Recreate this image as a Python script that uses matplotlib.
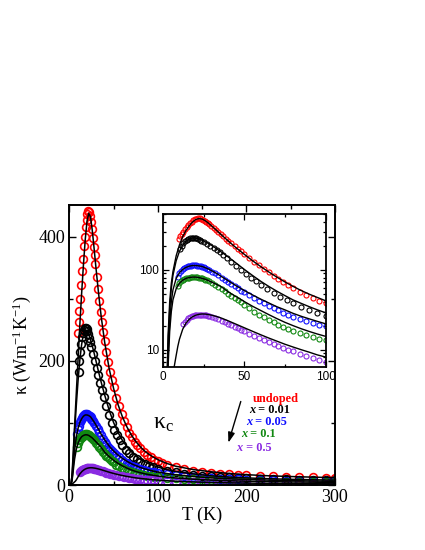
import matplotlib
matplotlib.use("Agg")
import matplotlib.pyplot as plt
from matplotlib.ticker import MultipleLocator, LogLocator, NullFormatter, FixedLocator

plt.rcParams['mathtext.fontset'] = 'stix'

# ---------------- data ----------------
labels = ["undoped", "x = 0.01", "x = 0.05", "x = 0.1", "x = 0.5"]
colors = ["#ff0000", "#000000", "#1010ff", "#118811", "#8a2be2"]

T_red = [9.5, 10.5, 11.5, 12.5, 13.5, 14.5, 15.5, 16.5, 17.5, 18.5, 19.5, 20.5, 21.5, 22.5, 23.5, 24.5,
         25.5, 26.5, 27.5, 28.5, 29.5, 31, 32.5, 34, 35.5, 37, 38.5, 40, 42, 44, 46, 48, 50, 53, 56, 59,
         62, 65, 68, 71, 74, 77, 80, 84, 88, 92, 96, 100, 105, 110, 120, 130, 140, 150, 160, 170, 180,
         190, 200, 215, 230, 245, 260, 275, 290, 300]
k_red = [245, 262, 280, 300, 322, 345, 365, 385, 400, 415, 427, 436, 441, 440, 434, 424,
         412, 398, 384, 370, 356, 336, 316, 297, 279, 262, 246, 232, 214, 198, 183, 170, 158, 141, 127, 114,
         103, 93, 84, 77, 70, 64, 59, 53, 48.5, 44.5, 41, 38.5, 35.5, 33, 29, 26, 23.5, 21.5, 20, 18.6, 17.4,
         16.4, 15.6, 14.7, 14, 13.4, 12.9, 12.5, 12.1, 11.9]

T_blk = [10.5, 11.5, 12.5, 13.5, 14.5, 15.5, 16.5, 17.5, 18.5, 19.5, 20.5, 21.5, 22.5, 23.5, 25, 27,
         29, 31, 33, 35, 37, 39, 42, 45, 48, 51, 54, 57, 60, 64, 68, 72, 76, 80, 85, 90, 95, 100,
         110, 120, 130, 140, 150, 160, 170, 180, 190, 200, 215, 230, 245, 260, 275, 290, 300]
k_blk = [183, 200, 215, 228, 238, 245, 250, 253, 253, 251, 248, 243, 237, 231, 222, 212,
         200, 189, 177, 165, 153, 142, 127, 113, 100, 89, 80, 72, 65, 57, 51, 46, 41.5, 38, 34, 31, 28.5, 26.5,
         23, 20.5, 18.5, 16.8, 15.4, 14.2, 13.2, 12.3, 11.6, 11, 10.3, 9.7, 9.2, 8.8, 8.4, 8.1, 7.9]

T_blu = [9, 10, 11, 12, 13, 14, 15, 16, 17, 18, 19, 20, 21, 22, 23, 24, 25, 26, 27, 28, 30, 32, 34,
         36, 38, 40, 42, 44, 46, 48, 50, 53, 56, 59, 62, 65, 68, 71, 74, 77, 80, 84, 88, 92, 96, 100,
         110, 120, 130, 140, 150, 160, 170, 180, 190, 200, 215, 230, 245, 260, 275, 290, 300]
k_blu = [82, 90, 96, 101, 105, 108, 110, 112, 113, 114, 114, 114, 113, 112, 111, 109, 107, 105, 103, 100,
         95, 90, 85, 80, 75, 70, 66, 62, 58.5, 55, 52, 48, 44.5, 41, 38, 35.5, 33, 31, 29, 27.5, 26, 24.3,
         23, 21.7, 20.6, 19.6, 17.3, 15.5, 14, 12.8, 11.8, 11, 10.3, 9.7, 9.2, 8.7, 8.1, 7.6, 7.2, 6.9,
         6.6, 6.3, 6.2]

T_grn = [9, 10, 11, 12, 13, 14, 15, 16, 17, 18, 19, 20, 21, 22, 23, 24, 25, 26, 27, 28, 30, 32, 34,
         36, 38, 40, 42, 44, 46, 48, 50, 53, 56, 59, 62, 65, 68, 71, 74, 77, 80, 84, 88, 92, 96, 100,
         110, 120, 130, 140, 150, 160, 170, 180, 190, 200, 215, 230, 245, 260, 275, 290, 300]
k_grn = [62, 68, 72, 75, 77, 78, 79, 80, 81, 82, 82, 82, 81, 80, 79, 78, 77, 75.5, 74, 72, 68, 64.5,
         61, 57.5, 54, 50.5, 47.5, 44.5, 41.5, 39, 36.5, 33, 30, 27.5, 25.5, 23.5, 22, 20.5, 19.3, 18.2,
         17.2, 16.2, 15.3, 14.5, 13.8, 13.2, 11.9, 10.8, 9.9, 9.1, 8.5, 7.9, 7.4, 7, 6.6, 6.3, 5.9, 5.5,
         5.2, 5, 4.8, 4.6, 4.5]

T_pur = [12.5, 13.5, 14.5, 15.5, 16.5, 17.5, 18.5, 19.5, 20.5, 21.5, 22.5, 23.5, 24.5, 25.5, 26.5,
         27.5, 28.5, 30, 32, 34, 36, 38, 40, 42, 44, 46, 48, 50, 53, 56, 59, 62, 65, 68, 71, 74, 77, 80,
         84, 88, 92, 96, 100, 110, 120, 130, 140, 150, 160, 170, 180, 190, 200, 215, 230, 245, 260, 275,
         290, 300]
k_pur = [21, 22.5, 23.7, 24.7, 25.5, 26.1, 26.6, 27, 27.2, 27.4, 27.5, 27.5, 27.4, 27.2, 27, 26.7,
         26.3, 25.7, 24.8, 23.9, 23, 22, 21.1, 20.2, 19.3, 18.5, 17.7, 17, 15.9, 14.9, 14, 13.2, 12.4,
         11.7, 11.1, 10.5, 10, 9.5, 8.9, 8.4, 7.9, 7.5, 7.1, 6.3, 5.6, 5.1, 4.6, 4.2, 3.9, 3.6, 3.4, 3.2,
         3, 2.8, 2.6, 2.4, 2.3, 2.2, 2.1, 2]

# fitted curves
Tf = [0, 2, 3, 4, 5, 6, 8, 10, 12, 14, 16, 18, 20, 22, 24, 26, 28, 30, 33, 36, 40, 45, 50, 55, 60, 65,
      70, 75, 80, 85, 90, 95, 100, 110, 120, 140, 160, 180, 200, 225, 250, 275, 300]
fit_red = [0, 2, 15, 40, 68, 95, 150, 205, 260, 310, 355, 395, 425, 438, 432, 410, 382, 352, 310, 272,
           230, 188, 156, 130, 110, 94, 81, 70.5, 62, 55, 49.5, 45, 41, 35, 30.5, 25, 21.5, 18.8, 16.8,
           15, 13.8, 12.8, 12]
fit_blk = [0, 2, 12, 32, 58, 85, 130, 170, 203, 227, 243, 250, 249, 243, 234, 224, 213, 201, 183, 166,
           145, 121, 101, 85, 72, 62, 54, 47.5, 42, 38, 34.5, 31.5, 29, 25, 22, 18, 15, 13, 11.6, 10.3,
           9.3, 8.6, 8.0]
fit_blu = [0, 1.5, 8, 22, 40, 56, 78, 92, 101, 107, 111, 113, 113, 112, 110, 106, 102, 97, 90, 82, 73,
           63, 55, 48.5, 43, 38.5, 34.5, 31.5, 28.5, 26.2, 24.3, 22.6, 21.1, 18.7, 16.7, 13.8, 11.7, 10.2,
           9.1, 8, 7.2, 6.6, 6.1]
fit_grn = [0, 1.2, 6, 17, 30, 42, 58, 68, 74, 78, 80, 81, 81, 80, 78, 76, 73, 70, 65.5, 61, 53, 46, 40,
           35, 31, 27.5, 24.5, 22, 20, 18.3, 16.9, 15.7, 14.7, 12.9, 11.5, 9.5, 8.1, 7.1, 6.3, 5.6, 5.1,
           4.7, 4.4]
Tf_pur = [0, 3, 5, 7, 8, 9, 10, 12, 14, 16, 18, 20, 22, 24, 26, 28, 30, 33, 36, 40, 45, 50, 55, 60, 65,
          70, 75, 80, 85, 90, 95, 100, 110, 120, 140, 160, 180, 200, 225, 250, 275, 300]
fit_pur = [0, 1.5, 3.8, 6.5, 8.5, 11, 13.5, 18, 21.5, 24, 25.8, 27, 27.7, 28, 27.9, 27.5, 27, 26, 24.8,
           23, 20.8, 18.8, 17, 15.4, 14, 12.8, 11.7, 10.8, 10, 9.3, 8.6, 8.1, 7.1, 6.3, 5.1, 4.3, 3.7,
           3.2, 2.8, 2.5, 2.2, 2.0]

data = [(T_red, k_red, Tf, fit_red), (T_blk, k_blk, Tf, fit_blk), (T_blu, k_blu, Tf, fit_blu),
        (T_grn, k_grn, Tf, fit_grn), (T_pur, k_pur, Tf_pur, fit_pur)]

serif = ["Liberation Serif", "DejaVu Serif"]
sans = ["Liberation Sans", "DejaVu Sans"]

fig = plt.figure(figsize=(4.25, 5.5), dpi=100)

# ---------------- main axes ----------------
ax = fig.add_axes([0.163, 0.118, 0.625, 0.509])
for (T, k, tf, kf), c in zip(data, colors):
    ax.plot(T, k, linestyle="none", marker="o", markersize=5.6, markerfacecolor="none",
            markeredgecolor=c, markeredgewidth=1.2, zorder=2)
for (T, k, tf, kf), c in zip(data, colors):
    ax.plot(tf, kf, color="black", lw=1.1, zorder=3)

ax.set_xlim(0, 300)
ax.set_ylim(0, 451)
ax.xaxis.set_major_locator(MultipleLocator(100))
ax.xaxis.set_minor_locator(MultipleLocator(50))
ax.yaxis.set_major_locator(MultipleLocator(200))
ax.yaxis.set_minor_locator(MultipleLocator(100))
ax.tick_params(which="both", direction="in", top=True, right=True, width=1.0)
ax.tick_params(which="major", length=5, labelsize=13, pad=3)
ax.tick_params(which="minor", length=3)
for lab in ax.get_xticklabels() + ax.get_yticklabels():
    lab.set_fontfamily(serif)
for s in ax.spines.values():
    s.set_linewidth(1.4)
ax.set_xlabel("T (K)", fontsize=13, family=serif, labelpad=0)
ax.set_ylabel(r"κ (Wm$^{\mathregular{-1}}$K$^{\mathregular{-1}}$)", fontsize=13, family=serif, labelpad=4)

ax.text(94, 100, r"κ$_{\mathregular{c}}$", fontsize=17, family=serif, ha="left", va="center")

lx = [207, 203, 199.5, 194, 189]
ly = [139, 121, 101, 82, 60]
values = ["", "0.01", "0.05", "0.1", "0.5"]
for i, (c, x0, y0) in enumerate(zip(colors, lx, ly)):
    if i == 0:
        ax.text(x0, y0, labels[0], color=c, fontsize=8.8, fontweight="bold", family=serif,
                ha="left", va="center")
    else:
        t1 = ax.text(x0, y0, "x", color=c, fontsize=8.8, fontweight="bold", fontstyle="italic",
                     family=serif, ha="left", va="center")
        ax.annotate(" = " + values[i], xy=(1.0, 0.5), xycoords=t1, color=c, fontsize=8.8,
                    fontweight="bold", family=serif, ha="left", va="center")
ax.annotate("", xy=(178.8, 64), xytext=(194.6, 139),
            arrowprops=dict(arrowstyle="-|>,head_length=0.6,head_width=0.2", color="black", lw=1.0))

# ---------------- inset ----------------
ins = fig.add_axes([0.384, 0.333, 0.382, 0.278])
ins.set_yscale("log", nonpositive="mask")
for (T, k, tf, kf), c in zip(data, colors):
    ins.plot(T, k, linestyle="none", marker="o", markersize=3.6, markerfacecolor="none",
             markeredgecolor=c, markeredgewidth=0.8, zorder=2)
for (T, k, tf, kf), c in zip(data, colors):
    ins.plot(tf, kf, color="black", lw=1.0, zorder=3)
ins.set_xlim(0, 100)
ins.set_ylim(6.1, 500)
ins.xaxis.set_major_locator(MultipleLocator(50))
ins.xaxis.set_minor_locator(MultipleLocator(25))
ins.yaxis.set_major_locator(FixedLocator([10, 100]))
ins.yaxis.set_minor_locator(LogLocator(base=10, subs=[2, 3, 4, 5, 6, 7, 8, 9]))
ins.yaxis.set_minor_formatter(NullFormatter())
ins.yaxis.set_major_formatter(plt.FuncFormatter(lambda v, p: f"{int(round(v))}"))
ins.tick_params(which="both", direction="in", top=True, right=True, width=0.9)
ins.tick_params(which="major", length=4, labelsize=8.5, pad=3)
ins.tick_params(which="minor", length=2.5)
for lab in ins.get_xticklabels() + ins.get_yticklabels():
    lab.set_fontfamily(sans)
for s in ins.spines.values():
    s.set_linewidth(1.3)

fig.savefig("out.png", dpi=100)
